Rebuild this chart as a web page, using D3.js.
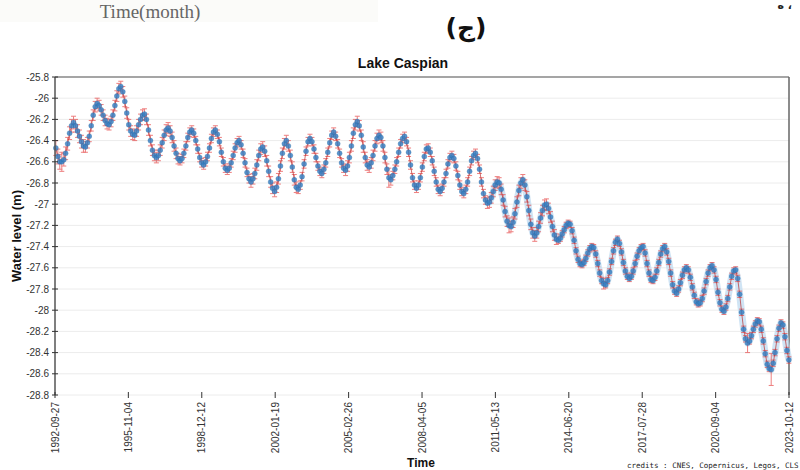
<!DOCTYPE html>
<html>
<head>
<meta charset="utf-8">
<script src="https://cdn.jsdelivr.net/npm/d3@7"></script>
<style>
    body {margin: 0; background: #fff;}
    svg {display: block; font-family: "Liberation Sans", Arial, sans-serif;}
</style>
</head>
<body>
<svg id="chart" width="800" height="470"></svg>
<script>
// monthly water level of Lake Caspian (m), first value = October 1992
const startYear = 1992, startMonth = 9;
const levels = [
    -26.47, -26.55, -26.60,                                                                   // 1992 (Oct-Dec)
    -26.60, -26.58, -26.52, -26.43, -26.33, -26.26, -26.23, -26.26, -26.31, -26.36, -26.41, -26.45, // 1993
    -26.46, -26.42, -26.36, -26.26, -26.16, -26.08, -26.05, -26.07, -26.11, -26.16, -26.21, -26.24, // 1994
    -26.25, -26.22, -26.16, -26.07, -25.98, -25.91, -25.89, -25.94, -26.03, -26.14, -26.25, -26.31, // 1995
    -26.34, -26.35, -26.31, -26.25, -26.20, -26.16, -26.15, -26.20, -26.30, -26.40, -26.49, -26.54, // 1996
    -26.56, -26.54, -26.49, -26.42, -26.35, -26.30, -26.28, -26.31, -26.37, -26.45, -26.52, -26.57, // 1997
    -26.59, -26.57, -26.52, -26.45, -26.37, -26.32, -26.30, -26.33, -26.40, -26.48, -26.56, -26.61, // 1998
    -26.63, -26.60, -26.55, -26.47, -26.38, -26.32, -26.30, -26.34, -26.41, -26.51, -26.60, -26.66, // 1999
    -26.68, -26.66, -26.61, -26.54, -26.47, -26.42, -26.40, -26.44, -26.52, -26.61, -26.70, -26.76, // 2000
    -26.79, -26.76, -26.71, -26.63, -26.54, -26.48, -26.46, -26.50, -26.59, -26.69, -26.79, -26.85, // 2001
    -26.88, -26.84, -26.76, -26.64, -26.52, -26.43, -26.40, -26.45, -26.54, -26.65, -26.77, -26.84, // 2002
    -26.86, -26.82, -26.74, -26.62, -26.50, -26.41, -26.38, -26.41, -26.48, -26.56, -26.64, -26.69, // 2003
    -26.71, -26.67, -26.61, -26.51, -26.42, -26.35, -26.32, -26.36, -26.43, -26.52, -26.61, -26.66, // 2004
    -26.68, -26.64, -26.56, -26.45, -26.33, -26.25, -26.22, -26.26, -26.35, -26.46, -26.56, -26.63, // 2005
    -26.65, -26.61, -26.54, -26.45, -26.38, -26.35, -26.37, -26.45, -26.56, -26.67, -26.75, -26.77, // 2006
    -26.73, -26.67, -26.60, -26.51, -26.43, -26.38, -26.36, -26.41, -26.51, -26.63, -26.75, -26.82, // 2007
    -26.85, -26.82, -26.75, -26.65, -26.55, -26.48, -26.47, -26.51, -26.59, -26.69, -26.79, -26.86, // 2008
    -26.88, -26.85, -26.79, -26.71, -26.62, -26.56, -26.54, -26.57, -26.64, -26.73, -26.82, -26.88, // 2009
    -26.90, -26.86, -26.79, -26.69, -26.59, -26.54, -26.52, -26.57, -26.67, -26.79, -26.90, -26.96, // 2010
    -26.99, -26.98, -26.94, -26.88, -26.82, -26.79, -26.80, -26.86, -26.96, -27.07, -27.16, -27.20, // 2011
    -27.21, -27.17, -27.09, -26.98, -26.87, -26.80, -26.77, -26.82, -26.93, -27.06, -27.19, -27.27, // 2012
    -27.30, -27.27, -27.21, -27.13, -27.06, -27.01, -27.00, -27.04, -27.12, -27.21, -27.29, -27.33, // 2013
    -27.34, -27.32, -27.28, -27.24, -27.20, -27.18, -27.19, -27.25, -27.34, -27.44, -27.52, -27.56, // 2014
    -27.57, -27.55, -27.51, -27.46, -27.42, -27.40, -27.41, -27.47, -27.56, -27.65, -27.72, -27.75, // 2015
    -27.76, -27.72, -27.64, -27.54, -27.44, -27.36, -27.33, -27.37, -27.45, -27.55, -27.63, -27.68, // 2016
    -27.70, -27.68, -27.63, -27.56, -27.49, -27.44, -27.41, -27.40, -27.46, -27.56, -27.65, -27.71, // 2017
    -27.72, -27.69, -27.63, -27.55, -27.47, -27.42, -27.40, -27.45, -27.54, -27.65, -27.76, -27.82, // 2018
    -27.84, -27.80, -27.74, -27.67, -27.62, -27.60, -27.62, -27.69, -27.78, -27.86, -27.92, -27.94, // 2019
    -27.93, -27.89, -27.82, -27.73, -27.65, -27.60, -27.58, -27.62, -27.71, -27.83, -27.93, -27.99, // 2020
    -28.01, -27.97, -27.89, -27.78, -27.68, -27.63, -27.62, -27.70, -27.85, -28.02, -28.18, -28.27, // 2021
    -28.31, -28.29, -28.24, -28.18, -28.13, -28.10, -28.11, -28.18, -28.29, -28.41, -28.51, -28.55, // 2022
    -28.56, -28.50, -28.40, -28.27, -28.17, -28.12, -28.14, -28.25, -28.38, -28.47                  // 2023 (Jan-Oct)
];
// typical uncertainty (m) per year, 1992 .. 2023
const errByYear = [0.07, 0.06, 0.05, 0.05, 0.05, 0.05, 0.04, 0.04, 0.04, 0.05, 0.05,
                   0.04, 0.04, 0.05, 0.05, 0.04, 0.04, 0.04, 0.04, 0.05, 0.05, 0.05,
                   0.03, 0.03, 0.03, 0.03, 0.03, 0.03, 0.03, 0.03, 0.03, 0.03];
// months with a visibly wider error bar
const wideErrors = [["1993-01", 0.09], ["2006-11", 0.09], ["2011-12", 0.07], ["2015-12", 0.05],
                    ["2022-01", 0.09], ["2023-01", 0.15]];
const yTicks = [-25.8, -26, -26.2, -26.4, -26.6, -26.8, -27, -27.2, -27.4, -27.6,
                -27.8, -28, -28.2, -28.4, -28.6, -28.8];
const xTickLabels = ["1992-09-27", "1995-11-04", "1998-12-12", "2002-01-19", "2005-02-26", "2008-04-05",
                     "2011-05-13", "2014-06-20", "2017-07-28", "2020-09-04", "2023-10-12"];

const svg = d3.select('#chart');
const margin = {left: 55, right: 11, top: 77, bottom: 75};
const W = 800, H = 470;
const parse = d3.timeParse('%Y-%m-%d');
const monthKey = d3.timeFormat('%Y-%m');

const x = d3.scaleTime()
    .domain([parse(xTickLabels[0]), parse(xTickLabels[xTickLabels.length - 1])])
    .range([margin.left, W - margin.right]);
const y = d3.scaleLinear()
    .domain([-28.8, -25.8])
    .range([H - margin.bottom, margin.top]);

const wide = new Map(wideErrors);
const data = levels.map((v, i) => {
    const date = new Date(startYear, startMonth + i, 10);
    const err = wide.get(monthKey(date)) ?? errByYear[date.getFullYear() - startYear];
    return {date, v, err};
});

// cropped strip of the page above the figure
svg.append('rect')
    .attr('x', 0).attr('y', 0).attr('width', 378).attr('height', 22)
    .attr('fill', '#fbfbf9');
svg.append('text')
    .attr('x', 150).attr('y', 18)
    .attr('text-anchor', 'middle')
    .style('font-family', '"Liberation Serif", serif')
    .style('font-size', '19px')
    .attr('fill', '#666')
    .text('Time(month)');
svg.append('text')
    .attr('x', 792).attr('y', 9)
    .attr('text-anchor', 'end')
    .style('font-family', '"DejaVu Sans", sans-serif')
    .style('font-size', '11px')
    .style('font-weight', 'bold')
    .attr('fill', '#222')
    .text('ه ،');
svg.append('text')
    .attr('x', 466).attr('y', 36)
    .attr('text-anchor', 'middle')
    .style('font-family', '"DejaVu Sans", sans-serif')
    .style('font-size', '25px')
    .style('font-weight', 'bold')
    .attr('fill', '#111')
    .text('(ج)');

// title
svg.append('text')
    .attr('x', 403).attr('y', 68)
    .attr('text-anchor', 'middle')
    .style('font-size', '14px')
    .style('font-weight', 'bold')
    .attr('fill', '#111')
    .text('Lake Caspian');

// grid
svg.append('g').attr('class', 'grid')
    .selectAll('line').data(yTicks)
    .join('line')
    .attr('x1', margin.left).attr('x2', W - margin.right)
    .attr('y1', d => y(d)).attr('y2', d => y(d))
    .attr('stroke', '#ececec')
    .attr('stroke-width', 1);

// frame
svg.append('line')
    .attr('x1', margin.left).attr('x2', W - margin.right)
    .attr('y1', margin.top).attr('y2', margin.top)
    .attr('stroke', '#8a8a8a').attr('stroke-width', 1.5);
svg.append('line')
    .attr('x1', W - margin.right).attr('x2', W - margin.right)
    .attr('y1', margin.top).attr('y2', H - margin.bottom)
    .attr('stroke', '#666').attr('stroke-width', 1.5);

const plot = svg.append('g').attr('class', 'series');

// denser multi-mission sampling after 2011 shows as a pale halo
plot.append('path')
    .datum(data.filter(d => d.date >= new Date(2011, 0, 1)))
    .attr('fill', 'none')
    .attr('stroke', '#bcd8ef')
    .attr('stroke-width', 7)
    .attr('stroke-linejoin', 'round')
    .attr('opacity', 0.7)
    .attr('d', d3.line().x(d => x(d.date)).y(d => y(d.v)));

const bars = plot.append('g')
    .attr('stroke', '#e53a3a')
    .attr('stroke-width', 1)
    .attr('opacity', 0.65);
bars.selectAll('line.errBar').data(data)
    .join('line')
    .attr('class', 'errBar')
    .attr('x1', d => x(d.date)).attr('x2', d => x(d.date))
    .attr('y1', d => y(d.v + d.err)).attr('y2', d => y(d.v - d.err));
bars.selectAll('line.capTop').data(data)
    .join('line')
    .attr('class', 'capTop')
    .attr('x1', d => x(d.date) - 2.5).attr('x2', d => x(d.date) + 2.5)
    .attr('y1', d => y(d.v + d.err)).attr('y2', d => y(d.v + d.err));
bars.selectAll('line.capBottom').data(data)
    .join('line')
    .attr('class', 'capBottom')
    .attr('x1', d => x(d.date) - 2.5).attr('x2', d => x(d.date) + 2.5)
    .attr('y1', d => y(d.v - d.err)).attr('y2', d => y(d.v - d.err));

plot.append('path')
    .datum(data)
    .attr('fill', 'none')
    .attr('stroke', '#b83030')
    .attr('stroke-width', 1)
    .attr('opacity', 0.7)
    .attr('d', d3.line().x(d => x(d.date)).y(d => y(d.v)));

plot.selectAll('circle').data(data)
    .join('circle')
    .attr('cx', d => x(d.date))
    .attr('cy', d => y(d.v))
    .attr('r', 2.5)
    .attr('fill', '#3a82c4')
    .attr('stroke', '#2c6aa6')
    .attr('stroke-width', 0.4)
    .attr('opacity', 0.85);

// y axis
const yAxis = svg.append('g').attr('class', 'yAxis');
yAxis.append('line')
    .attr('x1', margin.left).attr('x2', margin.left)
    .attr('y1', margin.top).attr('y2', H - margin.bottom)
    .attr('stroke', '#555').attr('stroke-width', 1.5);
yAxis.selectAll('line.tick').data(yTicks)
    .join('line')
    .attr('class', 'tick')
    .attr('x1', margin.left - 3).attr('x2', margin.left + 3)
    .attr('y1', d => y(d)).attr('y2', d => y(d))
    .attr('stroke', '#333');
yAxis.selectAll('text').data(yTicks)
    .join('text')
    .attr('x', margin.left - 6)
    .attr('y', d => y(d))
    .attr('dy', '0.35em')
    .attr('text-anchor', 'end')
    .style('font-size', '10px')
    .attr('fill', '#333')
    .text(d => d);
svg.append('text')
    .attr('transform', `translate(21,${(margin.top + H - margin.bottom) / 2}) rotate(-90)`)
    .attr('text-anchor', 'middle')
    .style('font-size', '13px')
    .style('font-weight', 'bold')
    .attr('fill', '#111')
    .text('Water level (m)');

// x axis
const xAxis = svg.append('g').attr('class', 'xAxis');
xAxis.selectAll('line').data(xTickLabels)
    .join('line')
    .attr('x1', d => x(parse(d))).attr('x2', d => x(parse(d)))
    .attr('y1', H - margin.bottom - 3).attr('y2', H - margin.bottom + 3)
    .attr('stroke', '#333');
xAxis.selectAll('text').data(xTickLabels)
    .join('text')
    .attr('transform', d => `translate(${x(parse(d))},${H - margin.bottom + 7}) rotate(-90)`)
    .attr('dy', '0.35em')
    .attr('text-anchor', 'end')
    .style('font-size', '10px')
    .attr('fill', '#333')
    .text(d => d);
svg.append('text')
    .attr('x', 421).attr('y', 467)
    .attr('text-anchor', 'middle')
    .style('font-size', '12px')
    .style('font-weight', 'bold')
    .attr('fill', '#111')
    .text('Time');

svg.append('text')
    .attr('x', 627).attr('y', 468)
    .style('font-family', '"DejaVu Sans Mono", monospace')
    .style('font-size', '7.5px')
    .attr('fill', '#222')
    .text('credits : CNES, Copernicus, Legos, CLS');
</script>
</body>
</html>
